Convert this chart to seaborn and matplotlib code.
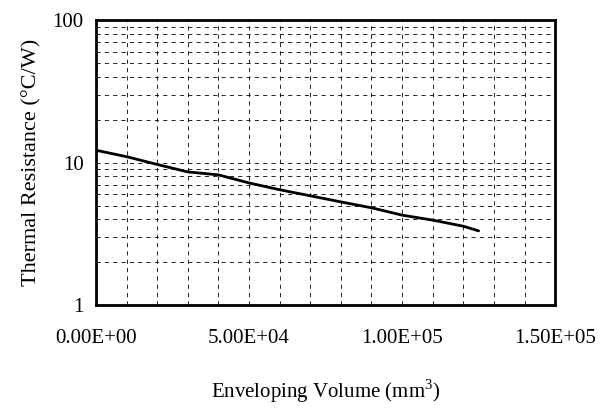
import matplotlib
matplotlib.use("Agg")
import matplotlib.pyplot as plt
import seaborn as sns
import numpy as np
import pandas as pd
from matplotlib.ticker import FixedLocator, FuncFormatter, LogLocator, NullFormatter, MultipleLocator

volume = [0, 1e4, 2e4, 3e4, 4e4, 5e4, 6e4, 7e4, 8e4, 9e4, 1e5, 1.1e5, 1.2e5, 1.25e5]
resistance = [12.2, 11.0, 9.7, 8.6, 8.2, 7.2, 6.45, 5.85, 5.3, 4.82, 4.28, 3.95, 3.58, 3.32]
xtick_labels = ["0.00E+00", "5.00E+04", "1.00E+05", "1.50E+05"]
xticks = [0, 5e4, 1e5, 1.5e5]
yticks = [1, 10, 100]

sns.set_theme(style="white")
plt.rcParams['font.family'] = ['Liberation Serif', 'DejaVu Serif']
plt.rcParams['mathtext.fontset'] = 'custom'
plt.rcParams['mathtext.rm'] = 'Liberation Serif'

fig = plt.figure(figsize=(6.08, 4.08), dpi=100)
ax = fig.add_axes([0.158, 0.252, 0.755, 0.699])

df = pd.DataFrame({"v": volume, "r": resistance})
sns.lineplot(data=df, x="v", y="r", ax=ax, color="black", linewidth=2.0)

ax.set_yscale("log")
ax.set_xlim(0, 1.5e5)
ax.set_ylim(1, 100)

ax.xaxis.set_major_locator(FixedLocator(xticks))
ax.xaxis.set_major_formatter(FuncFormatter(lambda v, p: xtick_labels[xticks.index(v)] if v in xticks else ""))
ax.xaxis.set_minor_locator(MultipleLocator(1e4))
ax.yaxis.set_major_locator(FixedLocator(yticks))
ax.yaxis.set_major_formatter(FuncFormatter(lambda v, p: f"{int(round(v))}"))
ax.yaxis.set_minor_locator(LogLocator(base=10, subs=np.arange(2, 10)))
ax.yaxis.set_minor_formatter(NullFormatter())

ax.grid(True, which="both", axis="both", color="black", linestyle=(0, (5, 5)), linewidth=0.6)
ax.set_axisbelow(True)

for s in ax.spines.values():
    s.set_visible(True)
    s.set_color("black")
    s.set_linewidth(2.0)

ax.tick_params(axis="x", which="major", direction="out", length=4, width=1, colors="black", labelsize=15, pad=13)
ax.tick_params(axis="x", which="minor", direction="in", length=0)
ax.tick_params(axis="y", which="major", direction="out", length=4, width=1, colors="black", labelsize=15, pad=5)
ax.tick_params(axis="y", which="minor", length=0)

ax.set_xlabel("Enveloping Volume (mm$^3$)", fontsize=15, color="black", labelpad=21)
ax.set_ylabel("Thermal Resistance (°C/W)", fontsize=16, color="black", labelpad=8)

fig.savefig("out.png", dpi=100, facecolor="white")
